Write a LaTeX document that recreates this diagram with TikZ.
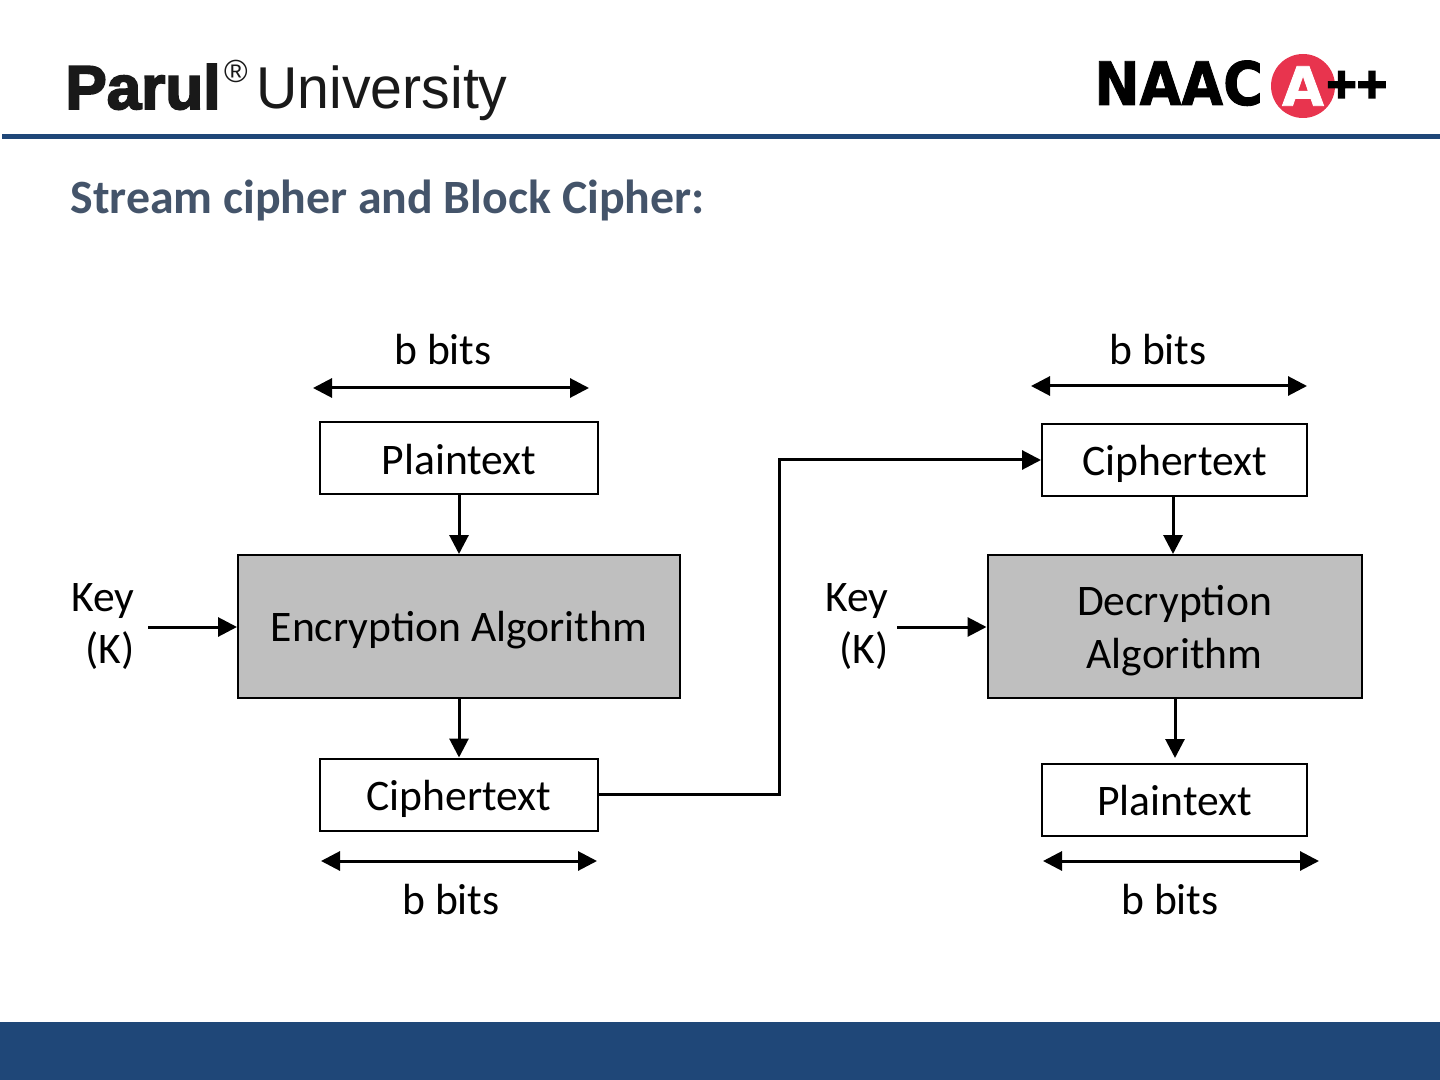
\documentclass[tikz,border=0pt]{standalone}
\usepackage{fontspec}
\setmainfont{Carlito}
\newfontfamily\logofont{Liberation Sans}
\newfontfamily\heavyfont[FakeBold=3]{Liberation Sans Bold}
\newfontfamily\wideheavyfont[FakeBold=1.5]{DejaVu Sans Bold}
\usetikzlibrary{arrows.meta}
\definecolor{barblue}{HTML}{1F4778}
\definecolor{titleslate}{HTML}{44546A}
\definecolor{naacred}{HTML}{E8344E}
\definecolor{algogray}{HTML}{BFBFBF}
\tikzset{
  textbox/.style={draw=black,line width=1pt,fill=white,inner sep=0pt,minimum width=139pt,minimum height=36pt,font=\fontsize{21.8}{26.5}\selectfont,align=center,text height=15pt,text depth=0pt},
  algobox/.style={textbox,fill=algogray},
  bitslabel/.style={font=\fontsize{21.8}{26.5}\selectfont},
  keylabel/.style={font=\fontsize{21.8}{26}\selectfont,align=right,anchor=east,inner sep=0pt},
  flow/.style={line width=1.5pt,-{Triangle[length=9.5pt,width=9.5pt]}},
  span/.style={line width=1.5pt,{Triangle[length=9.5pt,width=9.5pt]}-{Triangle[length=9.5pt,width=9.5pt]}}
}
\begin{document}
\begin{tikzpicture}[x=0.5pt,y=-0.5pt]

\useasboundingbox (0,0) rectangle (1440,1080);

% Header and footer
\fill[barblue] (2,134) rectangle (1440,139.5);
\fill[barblue] (0,1022) rectangle (1440,1080);

% Logos
\node[anchor=base west,inner sep=0pt,font=\fontsize{31}{32}\heavyfont,black!90] (parul) at (65,109) {Parul};
\node[anchor=center,inner sep=0pt,font=\fontsize{16}{18}\logofont,black!90] (regmark) at (236,71) {®};
\node[anchor=base west,inner sep=0pt,font=\fontsize{29.5}{32}\logofont,black!90,xscale=0.97] (univ) at (256,109) {University};
\node[anchor=base west,inner sep=0pt,font=\fontsize{30}{32}\wideheavyfont,xscale=0.9] (naac) at (1094,105) {NAAC};
\node[circle,fill=naacred,minimum size=32pt,inner sep=0pt] (badge) at (1303,86) {};
\node[inner sep=0pt,font=\fontsize{27}{28}\wideheavyfont,white] (badgeA) at (1303,86) {A};
\node[anchor=base west,inner sep=0pt,font=\fontsize{26}{30}\heavyfont] (plus) at (1326,102) {++};

% Title
\node[anchor=base west,inner sep=0pt,font=\fontsize{23.9}{26}\bfseries,titleslate] (title) at (70,214) {Stream cipher and Block Cipher:};

% -------- Encryption side --------
\node[textbox,text height=16pt] (plainA) at (459,458) {Plaintext};
\node[algobox,minimum width=221pt,minimum height=71.5pt] (encrypt) at (459,626.5) {Encryption Algorithm};
\node[textbox,text height=16pt] (cipherA) at (459,794.5) {Ciphertext};

\node[keylabel] (keyA) at (135,626.5) {Key\\(K)};
\coordinate (keyAend) at (148,627);
\draw[flow] (keyAend) -- (keyAend -| encrypt.west);
\draw[flow] (plainA) -- (encrypt);
\draw[flow] (encrypt) -- (cipherA);

\coordinate (spanAl) at (313,388);
\coordinate (spanAr) at (589,388);
\draw[span] (spanAl) -- (spanAr);
\node[bitslabel] (bitsA) at (443,350) {b bits};

\coordinate (spanBl) at (321,861);
\coordinate (spanBr) at (597,861);
\draw[span] (spanBl) -- (spanBr);
\node[bitslabel] (bitsB) at (451,900) {b bits};

% -------- Decryption side --------
\node[textbox,minimum width=132.5pt] (cipherB) at (1174.5,460) {Ciphertext};
\node[algobox,minimum width=187pt,minimum height=71.5pt,text height=41.5pt] (decrypt) at (1174.5,626.5) {Decryption\\Algorithm};
\node[textbox,minimum width=132.5pt] (plainB) at (1174.5,800) {Plaintext};

\node[keylabel] (keyB) at (889,626.5) {Key\\(K)};
\coordinate (keyBend) at (897,627);
\draw[flow] (keyBend) -- (keyBend -| decrypt.west);
\coordinate (dropB) at (1173,520);
\draw[flow] (cipherB.south -| dropB) -- (decrypt.north -| dropB);
\coordinate (plainBend) at (1175,758);
\draw[flow] (decrypt.south -| plainBend) -- (plainBend);

\coordinate (spanCl) at (1031,386);
\coordinate (spanCr) at (1307,386);
\draw[span] (spanCl) -- (spanCr);
\node[bitslabel] (bitsC) at (1158,350) {b bits};

\coordinate (spanDl) at (1043,861);
\coordinate (spanDr) at (1319,861);
\draw[span] (spanDl) -- (spanDr);
\node[bitslabel] (bitsD) at (1170,900) {b bits};

% Link between the two sides
\coordinate (link) at (779,627);
\draw[flow] (cipherA.east) -- (cipherA.east -| link) -- (cipherB.west -| link) -- (cipherB.west);

\end{tikzpicture}
\end{document}
